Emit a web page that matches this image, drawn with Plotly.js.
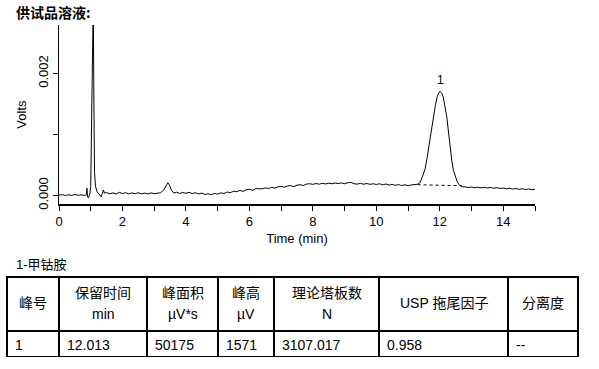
<!DOCTYPE html>
<html>
<head>
<meta charset="utf-8">
<script src="https://cdn.plot.ly/plotly-3.0.1.min.js"></script>
<style>
html,body{margin:0;padding:0;background:#fff;}
#chart{width:599px;height:369px;}
</style>
</head>
<body>
<div id="chart"></div>
<script>
// Chromatogram signal (time in min, signal in Volts)
const timeMin = [0.0,0.1,0.2,0.3,0.4,0.5,0.6,0.7,0.8,0.86,0.88,0.90,0.93,0.97,1.00,1.02,1.04,1.06,1.08,1.10,1.12,1.15,1.20,1.25,1.30,1.33,1.37,1.40,1.43,
1.5,1.6,1.7,1.8,1.9,2.0,2.1,2.2,2.3,2.4,2.5,2.6,2.7,2.8,2.9,3.0,3.1,3.2,3.3,3.38,3.43,3.48,3.55,3.62,
3.7,3.8,3.9,4.0,4.1,4.2,4.3,4.4,4.5,4.6,4.7,4.8,4.9,5.0,5.1,5.2,5.3,5.4,5.5,5.6,5.7,5.8,5.9,
6.0,6.1,6.2,6.3,6.4,6.5,6.6,6.7,6.8,6.9,7.0,7.1,7.2,7.3,7.4,7.5,7.6,7.7,7.8,7.9,
8.0,8.1,8.2,8.3,8.4,8.5,8.6,8.7,8.8,8.9,9.0,9.1,9.2,9.3,9.4,9.5,9.6,9.7,9.8,9.9,
10.0,10.1,10.2,10.3,10.4,10.5,10.6,10.7,10.8,10.9,11.0,11.1,11.2,11.3,11.38,11.45,11.53,11.6,11.67,11.74,11.8,11.86,11.92,11.97,
12.01,12.06,12.11,12.16,12.22,12.27,12.32,12.38,12.43,12.49,12.55,12.62,12.69,12.8,12.9,
13.0,13.1,13.2,13.3,13.4,13.5,13.6,13.7,13.8,13.9,14.0,14.1,14.2,14.3,14.4,14.5,14.6,14.7,14.8,14.9,15.0];
const signalV = [0.000005,0.000014,0.000000,0.000012,0.000002,0.000015,0.000004,0.000011,0.000001,0.000010,0.000120,-0.000020,-0.000040,0.000020,0.000150,0.000900,0.002000,0.002900,0.003200,0.001500,0.000380,0.000150,0.000060,0.000030,-0.000010,-0.000020,0.000040,0.000090,0.000040,
0.000048,0.000026,0.000044,0.000024,0.000052,0.000032,0.000046,0.000026,0.000042,0.000030,0.000045,0.000027,0.000040,0.000026,0.000043,0.000030,0.000041,0.000045,0.000090,0.000180,0.000210,0.000170,0.000080,0.000040,
0.000054,0.000034,0.000050,0.000036,0.000052,0.000031,0.000046,0.000026,0.000040,0.000018,0.000028,0.000014,0.000033,0.000022,0.000044,0.000032,0.000058,0.000046,0.000070,0.000064,0.000083,0.000068,0.000095,
0.000102,0.000086,0.000112,0.000106,0.000109,0.000126,0.000114,0.000134,0.000122,0.000142,0.000149,0.000136,0.000156,0.000162,0.000146,0.000169,0.000176,0.000164,0.000188,0.000193,
0.000183,0.000197,0.000185,0.000201,0.000189,0.000203,0.000192,0.000206,0.000195,0.000207,0.000193,0.000209,0.000215,0.000192,0.000187,0.000199,0.000185,0.000197,0.000183,0.000193,
0.000181,0.000193,0.000175,0.000189,0.000171,0.000183,0.000167,0.000179,0.000163,0.000175,0.000162,0.000173,0.000176,0.000185,0.000210,0.000300,0.000420,0.000620,0.000860,0.001090,0.001290,0.001480,0.001620,0.001690,
0.001705,0.001680,0.001610,0.001480,0.001290,0.001060,0.000800,0.000560,0.000410,0.000300,0.000225,0.000170,0.000144,0.000141,0.000131,
0.000139,0.000127,0.000137,0.000125,0.000135,0.000123,0.000133,0.000119,0.000129,0.000115,0.000123,0.000109,0.000119,0.000105,0.000115,0.000101,0.000111,0.000097,0.000107,0.000095,0.000102];

// Integration baseline under peak 1
const baseTime = [11.3, 12.7];
const baseV = [0.000177, 0.000160];

// Peak label
const peakName = ["1"];
const peakTime = [12.013];
const peakApexV = [0.001705];

// Results table
const headerMain = ["峰号", "保留时间", "峰面积", "峰高", "理论塔板数", "USP 拖尾因子", "分离度"];
const headerUnit = ["", "min", "µV*s", "µV", "N", "", ""];
const colPeakNo = ["1"];
const colRetention = ["12.013"];
const colArea = ["50175"];
const colHeight = ["1571"];
const colPlates = ["3107.017"];
const colTailing = ["0.958"];
const colResolution = ["--"];
const colWidths = [52, 88, 71, 56, 105, 129, 70];

const W = 599, H = 369;
const px = v => v / W, py = v => 1 - v / H;

const txt = "Liberation Sans, Arial, Noto Sans CJK SC, sans-serif";

// table geometry (pixels)
const tblLeft = 7, tblRight = 578, tblTop = 277, tblHeadH = 54, tblRowH = 26;
const totalW = colWidths.reduce((a, b) => a + b, 0);
const scale = (tblRight - tblLeft) / totalW;
const colCenters = [];
let acc = tblLeft;
colWidths.forEach(w => { colCenters.push(acc + w * scale / 2); acc += w * scale; });

const traces = [
  {
    type: "scatter", mode: "lines", x: timeMin, y: signalV,
    line: {color: "#000", width: 1}, hoverinfo: "skip"
  },
  {
    type: "scatter", mode: "lines", x: baseTime, y: baseV,
    line: {color: "#000", width: 1, dash: "3px,3px"}, hoverinfo: "skip"
  },
  {
    type: "table",
    domain: {x: [px(tblLeft), px(tblRight)], y: [py(tblTop + tblHeadH + tblRowH), py(tblTop)]},
    columnwidth: colWidths,
    header: {
      values: headerMain.map(() => ""),
      height: tblHeadH,
      line: {color: "#000", width: 2},
      fill: {color: "#fff"},
      font: {family: txt, size: 14, color: "#000"}
    },
    cells: {
      values: [colPeakNo, colRetention, colArea, colHeight, colPlates, colTailing, colResolution],
      align: "left",
      height: tblRowH,
      line: {color: "#000", width: 2},
      fill: {color: "#fff"},
      font: {family: txt, size: 14, color: "#000"}
    }
  }
];

const annotations = [
  {
    xref: "x", yref: "y", x: peakTime[0], y: peakApexV[0], text: peakName[0],
    showarrow: false, yshift: 12, font: {size: 12, family: txt, color: "#000"}
  },
  {
    xref: "paper", yref: "paper", x: px(14), y: py(12), xanchor: "left", yanchor: "middle",
    text: "<b>供试品溶液:</b>", showarrow: false,
    font: {size: 14, family: "Noto Sans CJK SC, sans-serif", color: "#000"}
  },
  {
    xref: "paper", yref: "paper", x: px(14), y: py(264), xanchor: "left", yanchor: "middle",
    text: "1-甲钴胺", showarrow: false,
    font: {size: 13, family: txt, color: "#000"}
  }
];
headerMain.forEach((h, i) => {
  const two = headerUnit[i] !== "";
  annotations.push({
    xref: "paper", yref: "paper", x: px(colCenters[i]), y: py(two ? 293 : 303),
    xanchor: "center", yanchor: "middle", text: h, showarrow: false,
    font: {size: 14, family: txt, color: "#000"}
  });
  if (two) {
    annotations.push({
      xref: "paper", yref: "paper", x: px(colCenters[i]), y: py(314),
      xanchor: "center", yanchor: "middle", text: headerUnit[i], showarrow: false,
      font: {size: 14, family: txt, color: "#000"}
    });
  }
});

const layout = {
  width: W, height: H,
  margin: {l: 0, r: 0, t: 0, b: 0},
  paper_bgcolor: "#fff", plot_bgcolor: "#fff",
  showlegend: false,
  font: {family: txt, size: 13, color: "#000"},
  xaxis: {
    domain: [px(59), px(535)],
    range: [0, 15],
    tickvals: [0,1,2,3,4,5,6,7,8,9,10,11,12,13,14,15],
    ticktext: ["0","","2","","4","","6","","8","","10","","12","","14",""],
    ticks: "outside", ticklen: 5, tickwidth: 1, tickcolor: "#000",
    showline: true, linecolor: "#000", linewidth: 1.3,
    showgrid: false, zeroline: false,
    tickfont: {size: 13, family: txt},
    title: {text: "Time (min)", font: {size: 13, family: txt}, standoff: 5}
  },
  yaxis: {
    domain: [py(204.3), py(25)],
    range: [-0.000144, 0.002795],
    tickvals: [0, 0.001, 0.002],
    ticktext: ["0.000", "", "0.002"],
    tickangle: -90,
    ticks: "outside", ticklen: 5, tickwidth: 1, tickcolor: "#000",
    showline: true, linecolor: "#000", linewidth: 1.3,
    showgrid: false, zeroline: false,
    tickfont: {size: 13, family: txt},
    title: {text: "Volts", font: {size: 13, family: txt}, standoff: 6}
  },
  annotations: annotations
};

Plotly.newPlot("chart", traces, layout, {displayModeBar: false, staticPlot: true});
</script>
</body>
</html>
